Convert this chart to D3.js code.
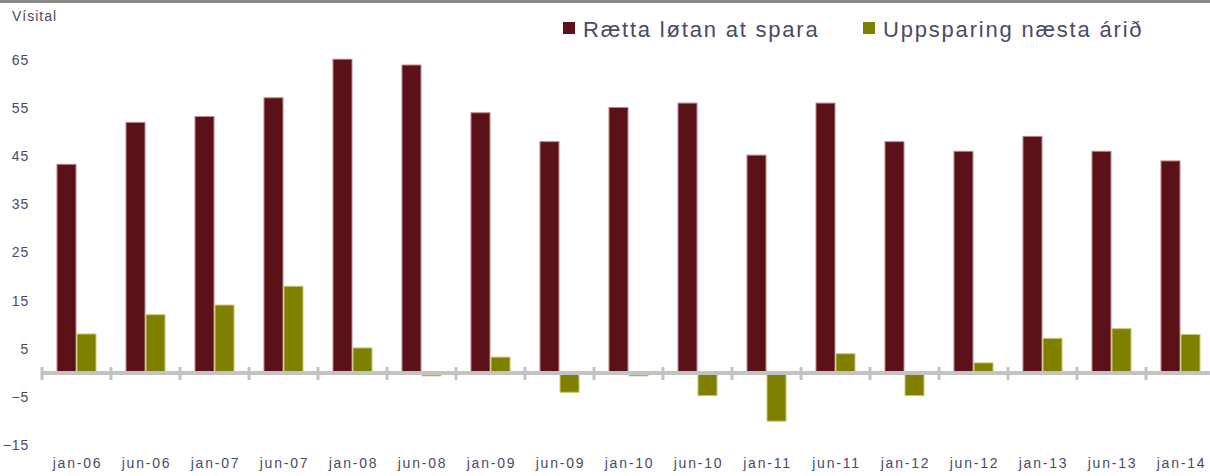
<!DOCTYPE html>
<html>
<head>
<meta charset="utf-8">
<script src="https://cdn.jsdelivr.net/npm/d3@7"></script>
<style>
  html, body { margin: 0; padding: 0; background: #fff; }
  svg { display: block; }
  text { font-family: "Liberation Sans", Arial, sans-serif; fill: #4a4a68; }
</style>
</head>
<body>
<svg id="chart" width="1210" height="476"></svg>
<script>
const categories = ["jan-06","jun-06","jan-07","jun-07","jan-08","jun-08","jan-09","jun-09","jan-10","jun-10","jan-11","jun-11","jan-12","jun-12","jan-13","jun-13","jan-14"];
const seriesNames = ["Rætta løtan at spara","Uppsparing næsta árið"];
const rettaLotan = [43.3, 52, 53.2, 57.1, 65.1, 63.9, 54, 48, 55.1, 56, 45.2, 56, 48, 46, 49.1, 46, 44];
const uppsparing = [8.1, 12.1, 14.1, 18, 5.2, -0.6, 3.3, -4, -0.6, -4.7, -10, 4, -4.7, 2.1, 7.2, 9.2, 8];
const yTicks = [-15, -5, 5, 15, 25, 35, 45, 55, 65];
const colors = ["#5a1218", "#808000"];
const strokes = ["#b98a8e", "#c9c97a"];

const svg = d3.select("#chart");

// top border band
svg.append("rect").attr("x", 0).attr("y", 0).attr("width", 1210).attr("height", 3).attr("fill", "#8a8a8a");

const y = d3.scaleLinear().domain([-15, 75]).range([445.3, 11.5]);
const x = d3.scaleBand().domain(categories).range([42, 1215]).paddingInner(0.42).paddingOuter(0.21);
const xs = d3.scaleBand().domain([0, 1]).range([0, x.bandwidth()]);
const step = x.step();

const data = categories.map((c, i) => ({ cat: c, vals: [rettaLotan[i], uppsparing[i]] }));

const groups = svg.append("g").selectAll("g").data(data).join("g")
  .attr("transform", d => `translate(${x(d.cat)},0)`);

groups.selectAll("rect").data(d => d.vals.map((v, k) => ({ v, k }))).join("rect")
  .attr("x", d => xs(d.k) + 0.5)
  .attr("width", xs.bandwidth() - 1)
  .attr("y", d => y(Math.max(0, d.v)))
  .attr("height", d => Math.abs(y(d.v) - y(0)))
  .attr("fill", d => colors[d.k])
  .attr("stroke", d => strokes[d.k])
  .attr("stroke-width", 1);

// zero axis line with category boundary ticks
const y0 = y(0);
svg.append("line").attr("x1", 42).attr("x2", 1215).attr("y1", y0).attr("y2", y0)
  .attr("stroke", "#c3c3c3").attr("stroke-width", 4);
const boundaries = d3.range(categories.length + 1).map(i => 42 + i * step);
svg.append("g").selectAll("line").data(boundaries).join("line")
  .attr("x1", d => d).attr("x2", d => d)
  .attr("y1", y0 - 6).attr("y2", y0 + 7)
  .attr("stroke", "#c3c3c3").attr("stroke-width", 3);

// y labels
const yAxis = d3.axisLeft(y).tickValues(yTicks).tickSize(0).tickPadding(0);
const gy = svg.append("g").attr("transform", "translate(29,0)").call(yAxis);
gy.select(".domain").remove();
gy.selectAll("text").style("font-size", "14px").attr("fill", "#4a4a68")
  .style("font-family", "'Liberation Sans', Arial, sans-serif").attr("letter-spacing", "0.8px");

svg.append("text").attr("x", 12).attr("y", 21).style("font-size", "14px")
  .attr("letter-spacing", "1px").text("Vísital");

// x labels
const xAxis = d3.axisBottom(x).tickSize(0).tickPadding(0);
const gx = svg.append("g").attr("transform", "translate(1,458)").call(xAxis);
gx.select(".domain").remove();
gx.selectAll("text").style("font-size", "14px").attr("fill", "#4a4a68")
  .style("font-family", "'Liberation Sans', Arial, sans-serif").attr("letter-spacing", "1.8px");

// legend
const legendX = [563, 863];
const lg = svg.append("g").selectAll("g").data(seriesNames).join("g")
  .attr("transform", (d, i) => `translate(${legendX[i]},0)`);
lg.append("rect").attr("x", 0).attr("y", 22).attr("width", 12).attr("height", 12)
  .attr("fill", (d, i) => colors[i]);
lg.append("text").attr("x", 20).attr("y", 37).style("font-size", "22px")
  .attr("letter-spacing", "1.8px").text(d => d);
</script>
</body>
</html>
